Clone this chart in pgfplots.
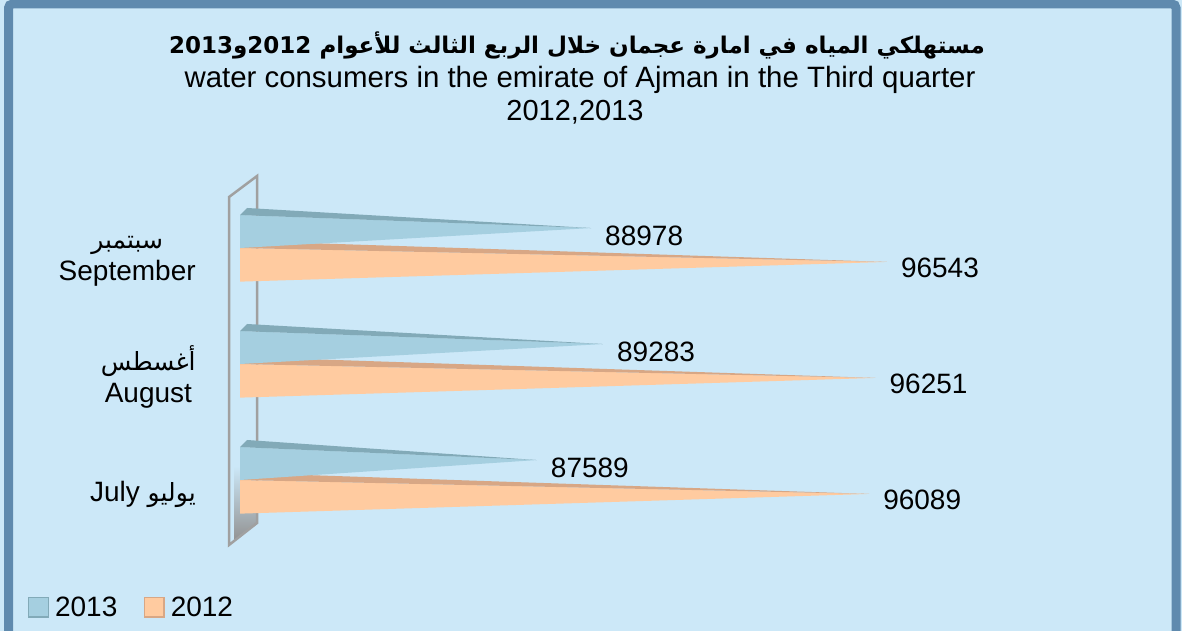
\documentclass[border=0pt]{standalone}
\usepackage{fontspec}
\setmainfont{Liberation Sans}
\newfontfamily\arabicfont[Script=Arabic]{DejaVu Sans}
\usepackage{pgfplots}
\pgfplotsset{compat=1.18}
\TeXXeTstate=1
\definecolor{bg}{HTML}{CCE8F8}
\definecolor{frame}{HTML}{5F8AAE}
\definecolor{bfront}{HTML}{A5CFE0}
\definecolor{btop}{HTML}{82AAB8}
\definecolor{ofront}{HTML}{FFCBA0}
\definecolor{otop}{HTML}{D8A785}
\definecolor{wall}{HTML}{A0A0A0}
\newcommand\ar[1]{{\arabicfont\fontsize{25}{32}\selectfont\beginR #1\endR}}
\begin{document}
\begin{tikzpicture}[x=1pt,y=1pt]
\useasboundingbox (0,0) rectangle (1182,-631);
\fill[bg] (0,0) rectangle (1182,-631);
\draw[frame, line width=9pt, rounded corners=4pt] (8.5,-4) rectangle (1176,-700);
% back wall
\shade[top color=bg, bottom color=gray!85] (234,-466) -- (257,-466) -- (257,-522) -- (234,-540) -- cycle;
\draw[wall, line width=2.5pt] (229,-197) -- (257,-176) -- (257,-523) -- (229,-545) -- cycle;
% titles
\node[font=\fontsize{23}{28}\selectfont\arabicfont\bfseries] at (577,-45)
  {\beginR مستهلكي المياه في امارة عجمان خلال الربع الثالث للأعوام \beginL2012\endL{}و\beginL2013\endL\endR};
\node[font=\fontsize{29.4}{33}\selectfont] at (580,-80) {water consumers in the emirate of Ajman in the Third quarter};
\node[font=\fontsize{29}{33}\selectfont] at (575,-112) {2012,2013};
\begin{axis}[
  at={(200.9pt,-549.6pt)}, anchor=south west,
  scale only axis, width=821.1pt, height=382.8pt,
  xmin=79000, xmax=100000, ymin=-0.6, ymax=2.7,
  axis line style={draw=none}, tick style={draw=none},
  xtick=\empty, clip=false,
  ytick={-0.12,0.885,1.885},
  yticklabels={July \ar{يوليو}, {\ar{أغسطس}\\August}, {\ar{سبتمبر}\\September}},
  yticklabel style={align=center, anchor=east, inner sep=0pt, xshift=-5pt,
    font=\fontsize{28}{32}\selectfont},
  legend image code/.code={\fill[#1] (0pt,-10pt) rectangle (20pt,10pt);
     \draw[#1, fill=none, line width=0.8pt] (0.4pt,-9.6pt) rectangle (19.6pt,9.6pt);},
  legend style={draw=none, fill=none, inner sep=0pt, legend columns=2,
    at={(-0.2106,-0.150)}, anchor=west,
    font=\fontsize{28}{32}\selectfont,
    nodes={inner xsep=6.5pt, inner ysep=0pt},
    /tikz/every even column/.append style={column sep=20pt}},
]
% July (c=0)
\addplot[forget plot, fill=ofront, draw=none] coordinates {(80000,-0.29) (80000,0) (96089,-0.12)} -- cycle;
\addplot[forget plot, fill=otop, draw=none] coordinates {(80000,0) (80180,0.06) (96089,-0.12)} -- cycle;
\addplot[forget plot, fill=bfront, draw=none] coordinates {(80000,0) (80000,0.284) (87589,0.172)} -- cycle;
\addplot[forget plot, fill=btop, draw=none] coordinates {(80000,0.284) (80180,0.345) (87589,0.172)} -- cycle;
% August (c=1)
\addplot[forget plot, fill=ofront, draw=none] coordinates {(80000,0.71) (80000,1) (96251,0.88)} -- cycle;
\addplot[forget plot, fill=otop, draw=none] coordinates {(80000,1) (80180,1.06) (96251,0.88)} -- cycle;
\addplot[forget plot, fill=bfront, draw=none] coordinates {(80000,1) (80000,1.284) (89283,1.172)} -- cycle;
\addplot[forget plot, fill=btop, draw=none] coordinates {(80000,1.284) (80180,1.345) (89283,1.172)} -- cycle;
% September (c=2)
\addplot[forget plot, fill=ofront, draw=none] coordinates {(80000,1.71) (80000,2) (96543,1.88)} -- cycle;
\addplot[forget plot, fill=otop, draw=none] coordinates {(80000,2) (80180,2.06) (96543,1.88)} -- cycle;
\addplot[forget plot, fill=bfront, draw=none] coordinates {(80000,2) (80000,2.284) (88978,2.172)} -- cycle;
\addplot[forget plot, fill=btop, draw=none] coordinates {(80000,2.284) (80180,2.345) (88978,2.172)} -- cycle;
% value labels
\addplot[forget plot, draw=none, mark=none, nodes near coords, point meta=explicit symbolic,
  every node near coord/.style={anchor=west, inner sep=0pt, xshift=14pt, yshift=-8pt,
    font=\fontsize{28}{32}\selectfont, text=black}]
  coordinates {(87589,0.172)[87589] (89283,1.172)[89283] (88978,2.172)[88978]};
\addplot[forget plot, draw=none, mark=none, nodes near coords, point meta=explicit symbolic,
  every node near coord/.style={anchor=west, inner sep=0pt, xshift=14pt, yshift=-6pt,
    font=\fontsize{28}{32}\selectfont, text=black}]
  coordinates {(96089,-0.12)[96089] (96251,0.88)[96251] (96543,1.88)[96543]};
\addlegendimage{fill=bfront, draw=btop}
\addlegendentry{2013}
\addlegendimage{fill=ofront, draw=otop}
\addlegendentry{2012}
\end{axis}
\end{tikzpicture}
\end{document}
